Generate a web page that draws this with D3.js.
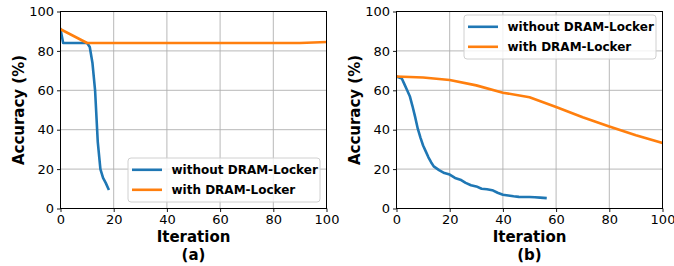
<!DOCTYPE html>
<html>
<head>
<meta charset="utf-8">
<script src="https://cdn.jsdelivr.net/npm/d3@7"></script>
<style>
  html, body { margin: 0; padding: 0; background: #fff; }
  svg { display: block; }
  text { font-family: "DejaVu Sans", sans-serif; fill: #000; }
</style>
</head>
<body>
<svg id="chart" width="674" height="266"></svg>
<script>
// ---- data ----
const xTicks = [0, 20, 40, 60, 80, 100];
const yTicks = [0, 20, 40, 60, 80, 100];
const seriesNames = ["without DRAM-Locker", "with DRAM-Locker"];
const seriesColors = ["#1f77b4", "#ff7f0e"];

// panel (a)
const aWithoutX = [0, 1, 2, 4, 6, 8, 10, 11, 12, 13, 14, 15, 16, 17, 18];
const aWithoutY = [91, 84, 84, 84, 84, 84, 84, 82, 74, 60, 34, 20, 15.5, 13, 10];
const aWithX = [0, 10, 20, 30, 40, 50, 60, 70, 80, 90, 100];
const aWithY = [91, 84, 84, 84, 84, 84, 84, 84, 84, 84, 84.5];

// panel (b)
const bWithoutX = [0, 1, 2, 3, 4, 5, 6, 7, 8, 9, 10, 11, 12, 13, 14, 16, 18, 20, 22, 24, 26, 28, 30, 32, 34, 36, 38, 40, 42, 44, 46, 48, 50, 52, 54, 56];
const bWithoutY = [67, 66.5, 66, 63, 60, 57, 52, 46.5, 40.5, 36, 32, 29, 26, 23.5, 21.4, 19.5, 18, 17.2, 15.5, 14.6, 13, 11.8, 11.2, 10, 9.8, 9.3, 8, 7, 6.6, 6.2, 5.9, 5.8, 5.8, 5.7, 5.5, 5.3];
const bWithX = [0, 10, 20, 30, 40, 50, 60, 70, 80, 90, 100];
const bWithY = [67, 66.5, 65.2, 62.5, 58.8, 56.5, 51.5, 46.3, 41.6, 37.2, 33.3];

const panels = [
  { label: "(a)", left: 60.5, series: [[aWithoutX, aWithoutY], [aWithX, aWithY]], legend: "bottomright" },
  { label: "(b)", left: 396.5, series: [[bWithoutX, bWithoutY], [bWithX, bWithY]], legend: "topright" }
];

const svg = d3.select("#chart");
const W = 266, plotTop = 11.5, plotBottom = 208.5;

panels.forEach((p, pi) => {
  const x = d3.scaleLinear().domain([0, 100]).range([p.left, p.left + W]);
  const y = d3.scaleLinear().domain([0, 100]).range([plotBottom, plotTop]);
  const g = svg.append("g");

  const clipId = "clip" + pi;
  svg.append("clipPath").attr("id", clipId)
    .append("rect").attr("x", p.left).attr("y", plotTop).attr("width", W).attr("height", plotBottom - plotTop);

  // grid
  g.append("g").selectAll("line").data(xTicks).join("line")
    .attr("x1", d => x(d)).attr("x2", d => x(d)).attr("y1", plotTop).attr("y2", plotBottom)
    .attr("stroke", "#b0b0b0").attr("stroke-width", 0.9);
  g.append("g").selectAll("line").data(yTicks).join("line")
    .attr("y1", d => y(d)).attr("y2", d => y(d)).attr("x1", p.left).attr("x2", p.left + W)
    .attr("stroke", "#b0b0b0").attr("stroke-width", 0.9);

  // series
  const line = d3.line().x(d => x(d[0])).y(d => y(d[1]));
  p.series.forEach((s, si) => {
    const pts = s[0].map((v, i) => [v, s[1][i]]);
    g.append("path").attr("d", line(pts))
      .attr("fill", "none").attr("stroke", seriesColors[si])
      .attr("stroke-width", 2.6).attr("stroke-linejoin", "round").attr("stroke-linecap", "square")
      .attr("clip-path", `url(#${clipId})`);
  });

  // axes
  const xAxis = d3.axisBottom(x).tickValues(xTicks).tickSize(3.5).tickPadding(3);
  const yAxis = d3.axisLeft(y).tickValues(yTicks).tickSize(3.5).tickPadding(3);
  const gx = g.append("g").attr("transform", `translate(0,${plotBottom})`).call(xAxis);
  const gy = g.append("g").attr("transform", `translate(${p.left},0)`).call(yAxis);
  [gx, gy].forEach(a => {
    a.select(".domain").remove();
    a.selectAll("line").attr("stroke", "#000").attr("stroke-width", 0.9);
    a.selectAll("text").style("font-family", "DejaVu Sans").style("font-size", "13px").attr("fill", "#000");
  });

  // frame
  g.append("rect").attr("x", p.left).attr("y", plotTop).attr("width", W).attr("height", plotBottom - plotTop)
    .attr("fill", "none").attr("stroke", "#000").attr("stroke-width", 1);

  // labels
  g.append("text").attr("x", p.left + W / 2).attr("y", 241.5).attr("text-anchor", "middle")
    .style("font-size", "15px").style("font-weight", "bold").text("Iteration");
  g.append("text").attr("x", p.left + W / 2).attr("y", 259.5).attr("text-anchor", "middle")
    .style("font-size", "15px").style("font-weight", "bold").text(p.label);
  g.append("text")
    .attr("transform", `translate(${p.left - 37},${(plotTop + plotBottom) / 2}) rotate(-90)`)
    .attr("text-anchor", "middle")
    .style("font-size", "15px").style("font-weight", "bold").text("Accuracy (%)");

  // legend
  const lw = 192, lh = 44;
  const lx = p.left + W - 6.5 - lw;
  const ly = p.legend === "topright" ? plotTop + 3.5 : plotBottom - 6.5 - lh;
  const lg = g.append("g");
  lg.append("rect").attr("x", lx).attr("y", ly).attr("width", lw).attr("height", lh)
    .attr("rx", 3).attr("fill", "#fff").attr("fill-opacity", 0.8)
    .attr("stroke", "#d0d0d0").attr("stroke-width", 1);
  seriesNames.forEach((name, i) => {
    const cy = ly + 11.8 + i * 20;
    lg.append("line").attr("x1", lx + 4).attr("x2", lx + 34).attr("y1", cy).attr("y2", cy)
      .attr("stroke", seriesColors[i]).attr("stroke-width", 2.6);
    lg.append("text").attr("x", lx + 43.5).attr("y", cy).attr("dy", "0.36em")
      .style("font-size", "12px").style("font-weight", "bold").text(name);
  });
});
</script>
</body>
</html>
